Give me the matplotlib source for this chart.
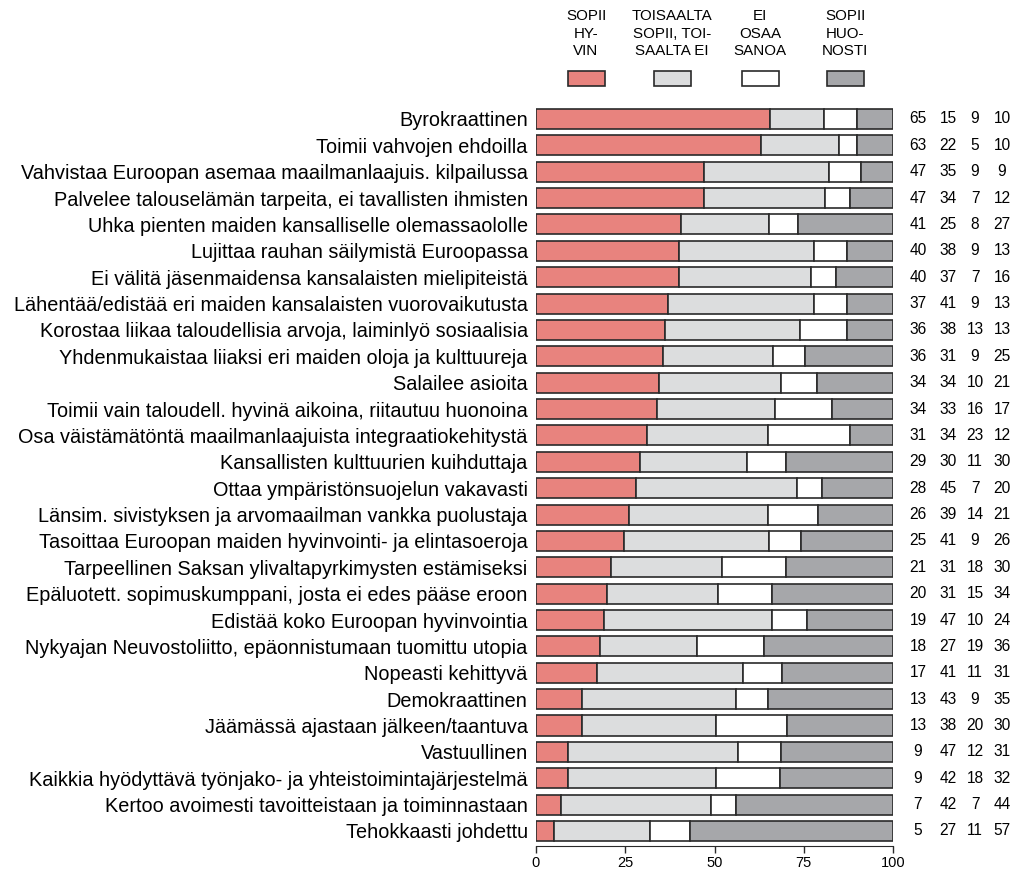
import numpy as np
import matplotlib
matplotlib.use('Agg')
import matplotlib.pyplot as plt
from matplotlib.patches import Rectangle
from matplotlib.transforms import blended_transform_factory

plt.rcParams['font.family'] = ['Liberation Sans', 'DejaVu Sans']

labels = [
    'Byrokraattinen',
    'Toimii vahvojen ehdoilla',
    'Vahvistaa Euroopan asemaa maailmanlaajuis. kilpailussa',
    'Palvelee talouselämän tarpeita, ei tavallisten ihmisten',
    'Uhka pienten maiden kansalliselle olemassaololle',
    'Lujittaa rauhan säilymistä Euroopassa',
    'Ei välitä jäsenmaidensa kansalaisten mielipiteistä',
    'Lähentää/edistää eri maiden kansalaisten vuorovaikutusta',
    'Korostaa liikaa taloudellisia arvoja, laiminlyö sosiaalisia',
    'Yhdenmukaistaa liiaksi eri maiden oloja ja kulttuureja',
    'Salailee asioita',
    'Toimii vain taloudell. hyvinä aikoina, riitautuu huonoina',
    'Osa väistämätöntä maailmanlaajuista integraatiokehitystä',
    'Kansallisten kulttuurien kuihduttaja',
    'Ottaa ympäristönsuojelun vakavasti',
    'Länsim. sivistyksen ja arvomaailman vankka puolustaja',
    'Tasoittaa Euroopan maiden hyvinvointi- ja elintasoeroja',
    'Tarpeellinen Saksan ylivaltapyrkimysten estämiseksi',
    'Epäluotett. sopimuskumppani, josta ei edes pääse eroon',
    'Edistää koko Euroopan hyvinvointia',
    'Nykyajan Neuvostoliitto, epäonnistumaan tuomittu utopia',
    'Nopeasti kehittyvä',
    'Demokraattinen',
    'Jäämässä ajastaan jälkeen/taantuva',
    'Vastuullinen',
    'Kaikkia hyödyttävä työnjako- ja yhteistoimintajärjestelmä',
    'Kertoo avoimesti tavoitteistaan ja toiminnastaan',
    'Tehokkaasti johdettu',
]
sopii_hyvin = [65, 63, 47, 47, 41, 40, 40, 37, 36, 36, 34, 34, 31, 29, 28, 26, 25, 21, 20, 19, 18, 17, 13, 13, 9, 9, 7, 5]
toisaalta = [15, 22, 35, 34, 25, 38, 37, 41, 38, 31, 34, 33, 34, 30, 45, 39, 41, 31, 31, 47, 27, 41, 43, 38, 47, 42, 42, 27]
ei_osaa = [9, 5, 9, 7, 8, 9, 7, 9, 13, 9, 10, 16, 23, 11, 7, 14, 9, 18, 15, 10, 19, 11, 9, 20, 12, 18, 7, 11]
sopii_huonosti = [10, 10, 9, 12, 27, 13, 16, 13, 13, 25, 21, 17, 12, 30, 20, 21, 26, 30, 34, 24, 36, 31, 35, 30, 31, 32, 44, 57]

legend_labels = ['SOPII\nHY-\nVIN', 'TOISAALTA\nSOPII, TOI-\nSAALTA EI', 'EI\nOSAA\nSANOA', 'SOPII\nHUO-\nNOSTI']
colors = ['#E8837E', '#DCDDDE', '#FFFFFF', '#A6A7AA']
edge = '#2a2a2a'

series = np.array([sopii_hyvin, toisaalta, ei_osaa, sopii_huonosti], dtype=float)
# bars are drawn as shares of the row total (rounded values don't always sum to 100)
shares = series / series.sum(axis=0) * 100

W, H = 1018, 871
fig = plt.figure(figsize=(W / 100, H / 100), dpi=100)
ax = fig.add_axes([536 / W, 1 - 846 / H, (893 - 536) / W, (846 - 105) / H])

y = np.arange(len(labels))
left = np.zeros(len(labels))
for k in range(4):
    ax.barh(y, shares[k], left=left, height=0.76, color=colors[k],
            edgecolor=edge, linewidth=1.2)
    left += shares[k]

ax.set_xlim(0, 100)
ax.set_ylim(27.57, -0.53)
ax.set_yticks(y)
ax.set_yticklabels(labels, fontsize=14.3)
ax.tick_params(axis='y', length=0, pad=6)
ax.set_xticks([0, 25, 50, 75, 100])
ax.tick_params(axis='x', labelsize=10.5, length=5, color=edge, width=1, pad=2)
for s in ['left', 'right', 'top']:
    ax.spines[s].set_visible(False)
ax.spines['bottom'].set_color(edge)
ax.spines['bottom'].set_bounds(0, 100)

# numbers on the right
tr = blended_transform_factory(fig.transFigure, ax.transData)
col_x = [918, 948, 975, 1002]
for k in range(4):
    for i in range(len(labels)):
        ax.text(col_x[k] / W, y[i], '%d' % series[k, i], transform=tr,
                ha='center', va='center', fontsize=11.2, clip_on=False)

# legend at top
leg_x = [586, 672, 760, 845]
for k in range(4):
    fig.text(leg_x[k] / W, 1 - 9 / H, legend_labels[k], ha='center', va='top',
             fontsize=10.9, linespacing=1.32)
    fig.patches.append(Rectangle(((leg_x[k] - 18.5) / W, 1 - 86 / H), 37 / W, 15 / H,
                                 transform=fig.transFigure, facecolor=colors[k],
                                 edgecolor=edge, linewidth=1.2))

fig.savefig('out.png', dpi=100)
